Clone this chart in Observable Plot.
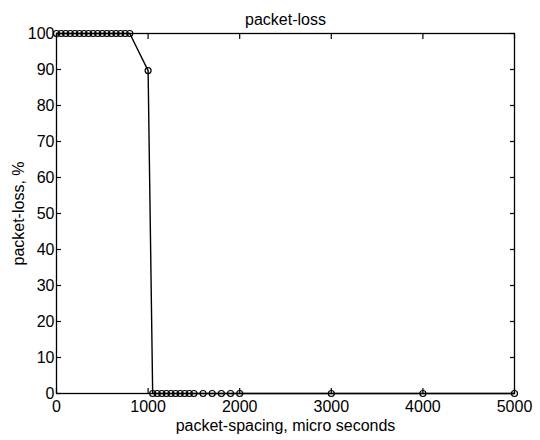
<!DOCTYPE html>
<html>
<head>
<meta charset="utf-8">
<script src="https://cdn.jsdelivr.net/npm/d3@7"></script>
<script src="https://cdn.jsdelivr.net/npm/@observablehq/plot@0.6"></script>
<style>
  html, body { margin: 0; padding: 0; background: #fff; }
  #chart { width: 540px; height: 440px; }
</style>
</head>
<body>
<div id="chart"></div>
<script>
const titleText = "packet-loss";
const xLabel = "packet-spacing, micro seconds";
const yLabel = "packet-loss, %";

const spacing = [
  0, 50, 100, 150, 200, 250, 300, 350, 400, 450, 500, 550, 600, 650, 700, 750, 800,
  1000,
  1050, 1100, 1150, 1200, 1250, 1300, 1350, 1400, 1450, 1500,
  1600, 1700, 1800, 1900, 2000,
  3000, 4000, 5000
];
const loss = [
  100, 100, 100, 100, 100, 100, 100, 100, 100, 100, 100, 100, 100, 100, 100, 100, 100,
  89.7,
  0, 0, 0, 0, 0, 0, 0, 0, 0, 0,
  0, 0, 0, 0, 0,
  0, 0, 0
];
const xTicks = [0, 1000, 2000, 3000, 4000, 5000];
const yTicks = [0, 10, 20, 30, 40, 50, 60, 70, 80, 90, 100];

const data = spacing.map((s, i) => ({x: s, y: loss[i]}));

const chart = Plot.plot({
  width: 540,
  height: 440,
  marginLeft: 56,
  marginRight: 26,
  marginTop: 33,
  marginBottom: 47,
  style: {fontFamily: "'Liberation Sans', Arial, Helvetica, sans-serif", fontSize: "16px", color: "#000", background: "#fff"},
  x: {domain: [0, 5000]},
  y: {domain: [0, 100]},
  marks: [
    Plot.frame({stroke: "#000", strokeWidth: 1.3}),
    Plot.axisX({anchor: "bottom", ticks: xTicks, tickFormat: d => String(d), tickSize: -5, tickPadding: 12, label: xLabel, labelAnchor: "center", labelOffset: 37, labelArrow: "none", strokeWidth: 1.2}),
    Plot.axisX({anchor: "top", ticks: xTicks, tickFormat: () => "", tickSize: -5, label: null, strokeWidth: 1.2}),
    Plot.axisY({anchor: "left", ticks: yTicks, tickFormat: d => String(d), tickSize: -5, tickPadding: 7, label: yLabel, labelAnchor: "center", labelOffset: 44, labelArrow: "none", strokeWidth: 1.2}),
    Plot.axisY({anchor: "right", ticks: yTicks, tickFormat: () => "", tickSize: -5, label: null, strokeWidth: 1.2}),
    Plot.line(data, {x: "x", y: "y", stroke: "#000", strokeWidth: 1.4}),
    Plot.dot(data, {x: "x", y: "y", r: 3, stroke: "#000", strokeWidth: 1.2, fill: "none"}),
    Plot.text([titleText], {frameAnchor: "top", dy: -9, lineAnchor: "bottom", text: d => d, fontSize: 16})
  ]
});
document.getElementById("chart").appendChild(chart);
</script>
</body>
</html>
